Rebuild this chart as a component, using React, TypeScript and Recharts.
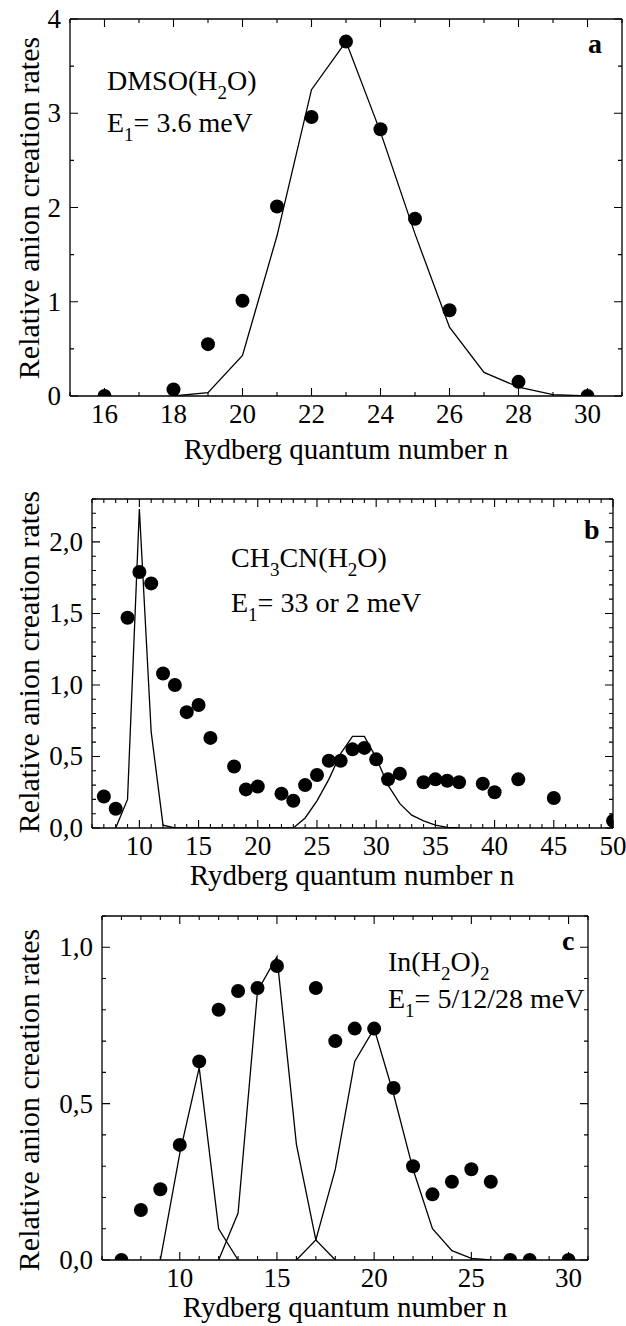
import React from 'react';
import { ComposedChart, Line, Scatter, XAxis, YAxis, ReferenceLine } from 'recharts';

const FONT = '"Liberation Serif", "Times New Roman", serif';
const INK = '#000';

// panel a: DMSO(H2O)
const nA = [16, 18, 19, 20, 21, 22, 23, 24, 25, 26, 28, 30];
const ratesA = [0, 0.07, 0.55, 1.01, 2.01, 2.96, 3.76, 2.83, 1.88, 0.91, 0.15, 0];
const fitNA = [18, 19, 20, 21, 22, 23, 24, 25, 26, 27, 28, 29, 30];
const fitA = [0, 0.035, 0.43, 1.7, 3.25, 3.76, 2.8, 1.72, 0.73, 0.25, 0.095, 0.015, 0];
const xLabelsA = [16, 18, 20, 22, 24, 26, 28, 30];
const yLabelsA = [0, 1, 2, 3, 4];

// panel b: CH3CN(H2O)
const nB = [7, 8, 9, 10, 11, 12, 13, 14, 15, 16, 18, 19, 20, 22, 23, 24, 25, 26, 27, 28, 29, 30, 31, 32, 34, 35, 36, 37, 39, 40, 42, 45, 50];
const ratesB = [0.22, 0.135, 1.47, 1.79, 1.71, 1.08, 1.0, 0.81, 0.86, 0.63, 0.43, 0.27, 0.29, 0.24, 0.19, 0.3, 0.37, 0.47, 0.47, 0.55, 0.56, 0.48, 0.34, 0.38, 0.32, 0.34, 0.33, 0.32, 0.31, 0.25, 0.34, 0.21, 0.05];
const fitNB = [8, 9, 10, 11, 12, 13, 23, 24, 25, 26, 27, 28, 29, 30, 31, 32, 33, 34, 35, 36, 37];
const fitB = [0, 0.2, 2.23, 0.67, 0.02, 0, 0, 0.07, 0.19, 0.34, 0.52, 0.64, 0.64, 0.49, 0.3, 0.17, 0.09, 0.05, 0.02, 0.005, 0];
const xLabelsB = [10, 15, 20, 25, 30, 35, 40, 45, 50];
const yLabelsB = [0, 0.5, 1.0, 1.5, 2.0];

// panel c: In(H2O)2
const nC = [7, 8, 9, 10, 11, 12, 13, 14, 15, 17, 18, 19, 20, 21, 22, 23, 24, 25, 26, 27, 28, 30];
const ratesC = [0, 0.16, 0.226, 0.368, 0.635, 0.8, 0.86, 0.87, 0.94, 0.87, 0.7, 0.74, 0.74, 0.55, 0.3, 0.21, 0.25, 0.29, 0.25, 0, 0, 0];
const fit1N = [9, 10, 11, 12, 13];
const fit1 = [0, 0.34, 0.615, 0.1, 0];
const fit2N = [12, 13, 14, 15, 16, 17, 18];
const fit2 = [0, 0.15, 0.86, 0.97, 0.37, 0.064, 0];
const fit3N = [16, 17, 18, 19, 20, 21, 22, 23, 24, 25, 26];
const fit3 = [0, 0.064, 0.29, 0.635, 0.74, 0.53, 0.29, 0.1, 0.03, 0.005, 0];
const xLabelsC = [10, 15, 20, 25, 30];
const yLabelsC = [0, 0.5, 1.0];

const range = (from: number, to: number, step: number) => {
  const out: number[] = [];
  for (let i = 0; from + i * step <= to + 1e-9; i++) out.push(Math.round((from + i * step) * 1000) / 1000);
  return out;
};

const pairs = (ns: number[], vs: number[]) => ns.map((n, i) => ({ n, v: vs[i] }));

const fmtInt = (v: number) => String(v);
const fmtComma = (v: number) => v.toFixed(1).replace('.', ',');

// inward tick on the axis plus its mirror on the opposite side of the frame
function Tick(props: any) {
  const { x, y, payload, side, majors, fmt, span } = props;
  const v = payload?.value;
  const major = majors.some((m: number) => Math.abs(m - v) < 1e-6);
  const len = major ? 8 : 4;
  if (side === 'bottom') {
    return (
      <g>
        <path d={`M${x},${y}V${y - len}M${x},${y - span}V${y - span + len}`} stroke={INK} strokeWidth={1.1} fill="none" />
        {major && (
          <text x={x} y={y + 27} textAnchor="middle" fill="#000" fontSize={27} fontFamily={FONT}>{fmt(v)}</text>
        )}
      </g>
    );
  }
  return (
    <g>
      <path d={`M${x},${y}H${x + len}M${x + span},${y}H${x + span - len}`} stroke={INK} strokeWidth={1.1} fill="none" />
      {major && (
        <text x={x - 9} y={y + 9} textAnchor="end" fill="#000" fontSize={27} fontFamily={FONT}>{fmt(v)}</text>
      )}
    </g>
  );
}

const Dot = (props: any) => <circle cx={props.cx} cy={props.cy} r={7} fill="#000" />;

interface PanelProps {
  top: number;
  height: number;
  left: number;
  right: number;
  plotTop: number;
  plotBottom: number;
  xDomain: [number, number];
  yDomain: [number, number];
  xTicks: number[];
  xMajor: number[];
  yTicks: number[];
  yMajor: number[];
  yFmt: (v: number) => string;
  points: { n: number; v: number }[];
  fits: { n: number; v: number }[][];
}

function Panel(p: PanelProps) {
  return (
    <div style={{ position: 'absolute', left: 0, top: p.top }}>
      <ComposedChart
        width={626}
        height={p.height}
        margin={{ top: p.plotTop - p.top, right: 626 - p.right, bottom: 0, left: 0 }}
      >
        <XAxis dataKey="n" type="number" domain={p.xDomain} allowDataOverflow ticks={p.xTicks}
          interval={0} height={p.top + p.height - p.plotBottom} tickLine={false} tickSize={0} tickMargin={0}
          axisLine={{ stroke: INK, strokeWidth: 1.3 }}
          tick={<Tick side="bottom" majors={p.xMajor} fmt={fmtInt} span={p.plotBottom - p.plotTop} />} />
        <YAxis type="number" domain={p.yDomain} allowDataOverflow ticks={p.yTicks} interval={0}
          width={p.left} tickLine={false} tickSize={0} tickMargin={0}
          axisLine={{ stroke: INK, strokeWidth: 1.3 }}
          tick={<Tick side="left" majors={p.yMajor} fmt={p.yFmt} span={p.right - p.left} />} />
        <ReferenceLine y={p.yDomain[1]} stroke={INK} strokeWidth={1.3} />
        <ReferenceLine x={p.xDomain[1]} stroke={INK} strokeWidth={1.3} />
        {p.fits.map((f, i) => (
          <Line key={i} data={f} dataKey="v" type="linear" stroke="#000"
            strokeWidth={1.3} dot={false} activeDot={false} isAnimationActive={false} />
        ))}
        <Scatter data={p.points} dataKey="v" shape={<Dot />} isAnimationActive={false} />
      </ComposedChart>
    </div>
  );
}

const sub = (s: string) => <tspan fontSize={19} dy={9}>{s}</tspan>;

export default function App() {
  return (
    <div style={{ position: 'absolute', left: 0, top: 0, width: 626, height: 1326, background: '#fff' }}>
      <Panel top={0} height={440} left={70} right={622} plotTop={19} plotBottom={396}
        xDomain={[15, 31]} yDomain={[0, 4]} xTicks={range(15, 31, 1)} xMajor={xLabelsA}
        yTicks={range(0, 4, 0.5)} yMajor={yLabelsA} yFmt={fmtInt}
        points={pairs(nA, ratesA)} fits={[pairs(fitNA, fitA)]} />
      <Panel top={460} height={420} left={92} right={613} plotTop={499} plotBottom={828}
        xDomain={[6, 50]} yDomain={[0, 2.3]} xTicks={range(6, 50, 1)} xMajor={xLabelsB}
        yTicks={range(0, 2.3, 0.1)} yMajor={yLabelsB} yFmt={fmtComma}
        points={pairs(nB, ratesB)} fits={[pairs(fitNB, fitB)]} />
      <Panel top={890} height={436} left={102} right={588} plotTop={916} plotBottom={1260}
        xDomain={[6, 31]} yDomain={[0, 1.1]} xTicks={range(6, 31, 1)} xMajor={xLabelsC}
        yTicks={range(0, 1.1, 0.1)} yMajor={yLabelsC} yFmt={fmtComma}
        points={pairs(nC, ratesC)} fits={[pairs(fit1N, fit1), pairs(fit2N, fit2), pairs(fit3N, fit3)]} />

      <svg width={626} height={1326} style={{ position: 'absolute', left: 0, top: 0, pointerEvents: 'none' }}
        fontFamily={FONT} fill="#000">
        {/* axis titles */}
        <text transform="translate(28,208) rotate(-90)" textAnchor="middle" dominantBaseline="central" fontSize={30}>Relative anion creation rates</text>
        <text transform="translate(28,662) rotate(-90)" textAnchor="middle" dominantBaseline="central" fontSize={30}>Relative anion creation rates</text>
        <text transform="translate(28,1100) rotate(-90)" textAnchor="middle" dominantBaseline="central" fontSize={30}>Relative anion creation rates</text>
        <text x={346} y={459} textAnchor="middle" fontSize={29}>Rydberg quantum number n</text>
        <text x={352} y={885} textAnchor="middle" fontSize={29}>Rydberg quantum number n</text>
        <text x={345} y={1317} textAnchor="middle" fontSize={29}>Rydberg quantum number n</text>

        {/* panel labels */}
        <text x={588} y={53} fontSize={28} fontWeight="bold">a</text>
        <text x={584} y={539} fontSize={28} fontWeight="bold">b</text>
        <text x={562} y={950} fontSize={28} fontWeight="bold">c</text>

        {/* annotations */}
        <text x={107} y={90} fontSize={28}>DMSO(H{sub('2')}<tspan dy={-9}>O)</tspan></text>
        <text x={107} y={132} fontSize={28}>E{sub('1')}<tspan dy={-9}>= 3.6 meV</tspan></text>

        <text x={231} y={567} fontSize={28}>CH{sub('3')}<tspan dy={-9}>CN(H</tspan>{sub('2')}<tspan dy={-9}>O)</tspan></text>
        <text x={231} y={612} fontSize={28}>E{sub('1')}<tspan dy={-9}>= 33 or 2 meV</tspan></text>

        <text x={388} y={971} fontSize={28}>In(H{sub('2')}<tspan dy={-9}>O)</tspan>{sub('2')}</text>
        <text x={388} y={1008} fontSize={28}>E{sub('1')}<tspan dy={-9}>= 5/12/28 meV</tspan></text>
      </svg>
    </div>
  );
}
